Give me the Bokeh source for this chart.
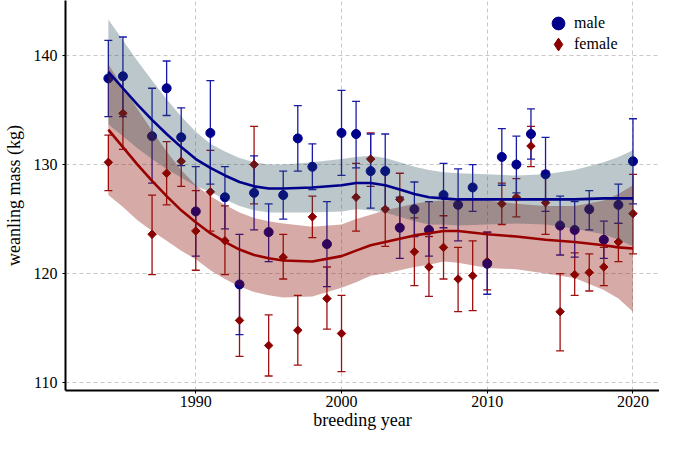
import numpy as np
from bokeh.plotting import figure
from bokeh.models import (ColumnDataSource, Whisker, TeeHead, FixedTicker, Range1d,
                          Legend, LegendItem)
from bokeh.embed import file_html
from bokeh.resources import INLINE

# ---------------- data ----------------
years = [1984, 1985, 1987, 1988, 1989, 1990, 1991, 1992, 1993, 1994, 1995, 1996, 1997,
         1998, 1999, 2000, 2001, 2002, 2003, 2004, 2005, 2006, 2007, 2008, 2009, 2010,
         2011, 2012, 2013, 2014, 2015, 2016, 2017, 2018, 2019, 2020]

mass_m = [137.9, 138.1, 132.6, 137.0, 132.5, 125.7, 132.9, 127.0, 119.0, 127.4, 123.8, 127.2, 132.4,
          129.8, 122.7, 132.9, 132.8, 129.4, 129.4, 124.2, 125.9, 124.0, 127.2, 126.3, 127.9, 120.9,
          130.7, 130.0, 132.8, 129.1, 124.4, 124.0, 125.9, 123.1, 126.3, 130.3]
lo_m = [134.4, 134.4, 128.3, 134.5, 129.9, 121.6, 128.2, 124.1, 114.4, 124.0, 121.1, 125.0, 129.4,
        127.7, 118.8, 129.0, 129.7, 126.0, 126.0, 121.4, 123.4, 121.6, 124.2, 123.0, 125.7, 118.1,
        128.1, 127.4, 130.5, 125.7, 121.7, 121.5, 124.0, 121.4, 124.6, 126.4]
hi_m = [141.4, 141.7, 137.0, 139.5, 135.2, 129.8, 137.7, 129.8, 123.6, 130.8, 126.4, 129.4, 135.4,
        131.9, 126.6, 136.8, 135.8, 132.8, 132.8, 127.0, 128.4, 126.6, 130.1, 129.6, 130.0, 123.8,
        133.3, 132.6, 135.1, 132.5, 127.1, 126.6, 127.6, 124.8, 128.2, 134.2]

mass_f = [130.2, 134.7, 123.6, 129.2, 130.3, 123.9, 127.5, 123.0, 115.7, 130.0, 113.4, 121.5, 114.8,
          125.2, 117.7, 114.5, 127.0, 130.5, 125.9, 126.8, 122.0, 120.6, 122.4, 119.5, 119.8, 121.1,
          126.4, 127.0, 131.7, 126.5, 116.5, 119.9, 120.1, 120.6, 122.9, 125.5]
lo_f = [127.6, 131.4, 119.9, 126.3, 128.0, 120.3, 123.9, 119.9, 112.4, 126.4, 110.6, 119.5, 111.6,
        123.3, 114.9, 111.0, 123.9, 128.0, 122.5, 124.4, 118.9, 117.9, 119.5, 116.5, 116.6, 118.5,
        124.5, 125.2, 129.8, 123.6, 112.9, 118.0, 118.4, 118.9, 121.1, 121.8]
hi_f = [132.7, 138.0, 127.2, 132.1, 132.6, 127.6, 131.3, 126.2, 119.1, 133.5, 116.2, 123.6, 118.0,
        127.1, 120.6, 118.0, 130.1, 132.9, 129.3, 129.2, 125.1, 123.4, 125.3, 122.4, 123.0, 123.8,
        128.3, 128.7, 133.5, 129.4, 120.0, 121.9, 121.8, 122.4, 124.6, 129.1]

# smoothed trends (loess fit with confidence band)
sm_years = [1984, 1985, 1986, 1987, 1988, 1989, 1990, 1991, 1992, 1993, 1994, 1995, 1996, 1998,
            2000, 2001, 2002, 2003, 2004, 2005, 2006, 2007, 2008, 2010, 2012, 2014, 2016, 2018,
            2019, 2020]
fit_m = [138.5, 137.0, 135.5, 134.1, 132.8, 131.6, 130.5, 129.7, 129.0, 128.4, 128.0, 127.8, 127.8,
         127.9, 128.1, 128.3, 128.3, 128.1, 127.7, 127.3, 127.0, 126.9, 126.8, 126.8, 126.8, 126.8,
         126.8, 126.9, 126.9, 126.9]
up_m = [143.3, 141.4, 139.5, 137.7, 136.0, 134.4, 133.0, 131.9, 131.2, 130.6, 130.2, 130.0, 130.0,
        130.2, 130.5, 130.7, 130.8, 130.6, 130.2, 129.8, 129.5, 129.3, 129.2, 129.1, 129.0, 129.1,
        129.5, 130.2, 130.7, 131.3]
dn_m = [133.7, 132.6, 131.5, 130.5, 129.6, 128.8, 128.0, 127.5, 126.8, 126.2, 125.8, 125.6, 125.6,
        125.6, 125.7, 125.9, 125.8, 125.6, 125.2, 124.8, 124.5, 124.5, 124.4, 124.5, 124.6, 124.5,
        124.1, 123.6, 123.1, 122.5]
fit_f = [133.2, 131.6, 130.0, 128.5, 127.1, 125.8, 124.7, 123.7, 122.9, 122.2, 121.7, 121.4, 121.2,
         121.1, 121.6, 122.1, 122.6, 122.9, 123.2, 123.5, 123.7, 123.9, 123.9, 123.6, 123.4, 123.1,
         122.9, 122.6, 122.4, 122.3]
up_f = [139.2, 137.1, 135.1, 133.1, 131.2, 129.5, 128.1, 127.1, 126.3, 125.6, 125.1, 124.8, 124.6,
        124.3, 124.5, 125.0, 125.4, 125.8, 126.1, 126.4, 126.6, 126.7, 126.8, 126.7, 126.4, 126.2,
        126.2, 126.7, 127.3, 128.1]
dn_f = [127.2, 126.1, 124.9, 123.9, 123.0, 122.1, 121.3, 120.3, 119.5, 118.8, 118.3, 118.0, 117.8,
        117.9, 118.7, 119.2, 119.8, 120.0, 120.3, 120.6, 120.8, 121.1, 121.0, 120.5, 120.4, 120.0,
        119.6, 118.5, 117.7, 116.5]

x_ticks = [1990, 2000, 2010, 2020]
y_ticks = [110, 120, 130, 140]

# ---------------- styles ----------------
FONT = "Liberation Serif"
M_COL = "#00008B"
F_COL = "#8B0000"
M_BAR = "#1A1AA8"
F_BAR = "#A01010"

src_m = ColumnDataSource(dict(year=years, mass=mass_m, lo=lo_m, hi=hi_m))
src_f = ColumnDataSource(dict(year=years, mass=mass_f, lo=lo_f, hi=hi_f))
src_s = ColumnDataSource(dict(year=sm_years, fit_m=fit_m, up_m=up_m, dn_m=dn_m,
                              fit_f=fit_f, up_f=up_f, dn_f=dn_f))

p = figure(width=659, height=434,
           x_range=Range1d(1981.06, 2021.82), y_range=Range1d(109.27, 145.05),
           output_backend="svg", toolbar_location=None,
           min_border_left=64, min_border_right=0, min_border_top=0, min_border_bottom=44)
p.outline_line_color = None
p.background_fill_color = "white"

# grid
for g in (p.xgrid, p.ygrid):
    g.grid_line_color = "#c8c8c8"
    g.grid_line_dash = "4 3"
    g.grid_line_width = 1
p.xaxis.ticker = FixedTicker(ticks=x_ticks)
p.yaxis.ticker = FixedTicker(ticks=y_ticks)
p.xgrid.ticker = FixedTicker(ticks=x_ticks)
p.ygrid.ticker = FixedTicker(ticks=y_ticks)

for ax in (p.xaxis, p.yaxis):
    ax.axis_line_width = 2
    ax.axis_line_color = "black"
    ax.major_tick_line_color = "black"
    ax.major_tick_out = 3
    ax.major_tick_in = 0
    ax.minor_tick_line_color = None
    ax.major_label_text_font = FONT
    ax.major_label_text_font_size = "16px"
    ax.major_label_text_color = "black"
    ax.axis_label_text_font = FONT
    ax.axis_label_text_font_size = "18px"
    ax.axis_label_text_font_style = "normal"
    ax.axis_label_text_color = "black"
    ax.major_label_standoff = 2
    ax.axis_label_standoff = 0
p.xaxis.axis_label = "breeding year"
p.yaxis.axis_label = "weanling mass (kg)"
p.yaxis.major_label_standoff = 5
p.yaxis.axis_label_standoff = 7

# error bars
wm = Whisker(base="year", lower="lo", upper="hi", source=src_m, dimension="height",
             line_color=M_BAR, line_width=1.3,
             upper_head=TeeHead(size=8, line_color=M_BAR, line_width=1.3),
             lower_head=TeeHead(size=8, line_color=M_BAR, line_width=1.3))
wf = Whisker(base="year", lower="lo", upper="hi", source=src_f, dimension="height",
             line_color=F_BAR, line_width=1.3,
             upper_head=TeeHead(size=8, line_color=F_BAR, line_width=1.3),
             lower_head=TeeHead(size=8, line_color=F_BAR, line_width=1.3))
p.add_layout(wf)
p.add_layout(wm)

# points
r_f = p.scatter("year", "mass", source=src_f, marker="square", angle=np.pi / 4,
                size=6, fill_color=F_COL, line_color=F_COL)
r_m = p.scatter("year", "mass", source=src_m, marker="circle",
                size=9, fill_color=M_COL, line_color=M_COL)

# confidence ribbons (drawn over the points, semi-transparent)
p.varea(x="year", y1="dn_f", y2="up_f", source=src_s, fill_color="#8A0C00", fill_alpha=0.35)
p.varea(x="year", y1="dn_m", y2="up_m", source=src_s, fill_color="#1F4550", fill_alpha=0.3)

# trend lines
p.line("year", "fit_f", source=src_s, line_color="#990000", line_width=2.6)
p.line("year", "fit_m", source=src_s, line_color="#00008B", line_width=2.6)

# legend key renderers (a single missing point, so they only show in the legend)
key_src = ColumnDataSource(dict(year=[float("nan")], mass=[float("nan")]))
k_m = p.scatter("year", "mass", source=key_src, marker="circle",
                fill_color=M_COL, line_color=M_COL)
k_f = p.scatter("year", "mass", source=key_src, marker="diamond",
                fill_color=F_COL, line_color=F_COL)

common = dict(orientation="vertical", glyph_width=32, glyph_height=32, label_height=21,
              spacing=0, label_standoff=0, padding=0, margin=0,
              label_text_font=FONT, label_text_font_size="16px", label_text_color="black",
              border_line_alpha=0, background_fill_alpha=0)
leg_m = Legend(items=[LegendItem(label="male", renderers=[k_m])], location=(477, 351), **common)
leg_f = Legend(items=[LegendItem(label="female", renderers=[k_f])], location=(477, 330), **common)
p.add_layout(leg_m)
p.add_layout(leg_f)

open("out.html", "w").write(file_html(p, INLINE))
